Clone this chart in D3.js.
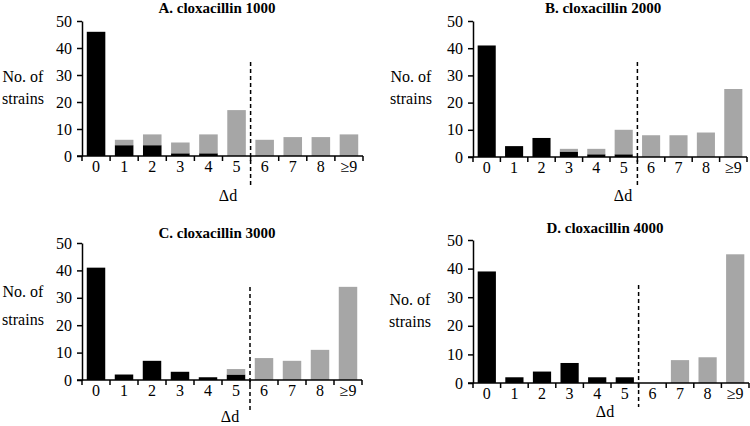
<!DOCTYPE html>
<html><head><meta charset="utf-8">
<script src="https://cdn.jsdelivr.net/npm/d3@7"></script>
<style>body{margin:0;background:#fff}svg{display:block}text{font-family:"Liberation Serif","Times New Roman",serif}</style>
</head><body>
<svg id="c" width="750" height="426"></svg>
<script>
const categories = ["0","1","2","3","4","5","6","7","8","≥9"];
const titles = ["A. cloxacillin 1000","B. cloxacillin 2000","C. cloxacillin 3000","D. cloxacillin 4000"];
const blackA = [46,4,4,1,1,0,0,0,0,0];
const grayA  = [0,2,4,4,7,17,6,7,7,8];
const blackB = [41,4,7,2,1,1,0,0,0,0];
const grayB  = [0,0,0,1,2,9,8,8,9,25];
const blackC = [41,2,7,3,1,2,0,0,0,0];
const grayC  = [0,0,0,0,0,2,8,7,11,34];
const blackD = [39,2,4,7,2,2,0,0,0,0];
const grayD  = [0,0,0,0,0,0,0,8,9,45];
const yTicks = [0,10,20,30,40,50];
const yLabel = ["No. of","strains"];
const xLabel = "Δd";

const panels = [
  {black:blackA, gray:grayA, title:titles[0], x0:82, x1:363, yTop:21, yBot:156, tx:217, ty:13, lx:23, ly:[82,104], dx:228, dy:201, dash:[62,185]},
  {black:blackB, gray:grayB, title:titles[1], x0:473, x1:747, yTop:21, yBot:157, tx:603, ty:13, lx:411, ly:[82,104], dx:623, dy:201, dash:[62,185]},
  {black:blackC, gray:grayC, title:titles[2], x0:82, x1:362, yTop:243, yBot:380, tx:217, ty:238, lx:23, ly:[297,325], dx:230, dy:422, dash:[287,412]},
  {black:blackD, gray:grayD, title:titles[3], x0:473, x1:749, yTop:240, yBot:383, tx:605, ty:233, lx:410, ly:[305,327], dx:605, dy:417, dash:[285,407]}
];

const svg = d3.select("#c");
const pad = 0.34;

panels.forEach(p => {
  const g = svg.append("g");
  const x = d3.scaleBand().domain(categories).range([p.x0, p.x1]).paddingInner(pad).paddingOuter(pad/2);
  const y = d3.scaleLinear().domain([0,50]).range([p.yBot, p.yTop]);
  const rows = categories.map((c,i)=>({cat:c, black:p.black[i], gray:p.gray[i]}));
  const stack = d3.stack().keys(["black","gray"])(rows);
  const colors = {black:"#000000", gray:"#a6a6a6"};
  stack.forEach(layer => {
    g.append("g").selectAll("rect").data(layer.filter(d=>d[1]-d[0]>0)).join("rect")
      .attr("x", d=>x(d.data.cat))
      .attr("width", x.bandwidth())
      .attr("y", d=>y(d[1]))
      .attr("height", d=>y(d[0])-y(d[1]))
      .attr("fill", colors[layer.key]);
  });
  // y axis
  const ya = g.append("g").attr("transform",`translate(${p.x0},0)`)
    .call(d3.axisLeft(y).tickValues(yTicks).tickSize(5).tickPadding(5).tickSizeOuter(0));
  ya.select(".domain").attr("stroke-width",1.5);
  ya.selectAll(".tick line").attr("stroke-width",1.5);
  ya.selectAll("text").attr("font-size",16).attr("font-family","Liberation Serif").attr("fill","#000");
  // x axis labels
  const xa = g.append("g").attr("transform",`translate(0,${p.yBot})`)
    .call(d3.axisBottom(x).tickSize(0).tickPadding(5).tickSizeOuter(0));
  xa.select(".domain").remove();
  xa.selectAll("text").attr("font-size",16).attr("font-family","Liberation Serif").attr("fill","#000");
  // x axis line and boundary ticks
  const step = x.step();
  const bounds = categories.map(c => x(c) - step*pad/2).concat([p.x1]);
  g.append("line").attr("x1",p.x0-5).attr("x2",p.x1).attr("y1",p.yBot).attr("y2",p.yBot).attr("stroke","#000").attr("stroke-width",1.5);
  g.append("g").selectAll("line").data(bounds).join("line")
    .attr("x1",d=>d).attr("x2",d=>d).attr("y1",p.yBot).attr("y2",p.yBot+5)
    .attr("stroke","#000").attr("stroke-width",1.5);
  // dashed separator between 5 and 6
  const sep = x(categories[6]) - step*pad/2;
  g.append("line").attr("x1",sep).attr("x2",sep).attr("y1",p.dash[0]).attr("y2",p.dash[1])
    .attr("stroke","#000").attr("stroke-width",1.5).attr("stroke-dasharray","4,3");
  // title
  g.append("text").attr("x",p.tx).attr("y",p.ty).attr("text-anchor","middle")
    .attr("font-size",15).attr("font-weight","bold").text(p.title);
  // y label
  yLabel.forEach((t,i)=>{
    g.append("text").attr("x",p.lx).attr("y",p.ly[i]).attr("text-anchor","middle").attr("font-size",16).text(t);
  });
  g.append("text").attr("x",p.dx).attr("y",p.dy).attr("text-anchor","middle").attr("font-size",16).text(xLabel);
});
</script>
</body></html>
